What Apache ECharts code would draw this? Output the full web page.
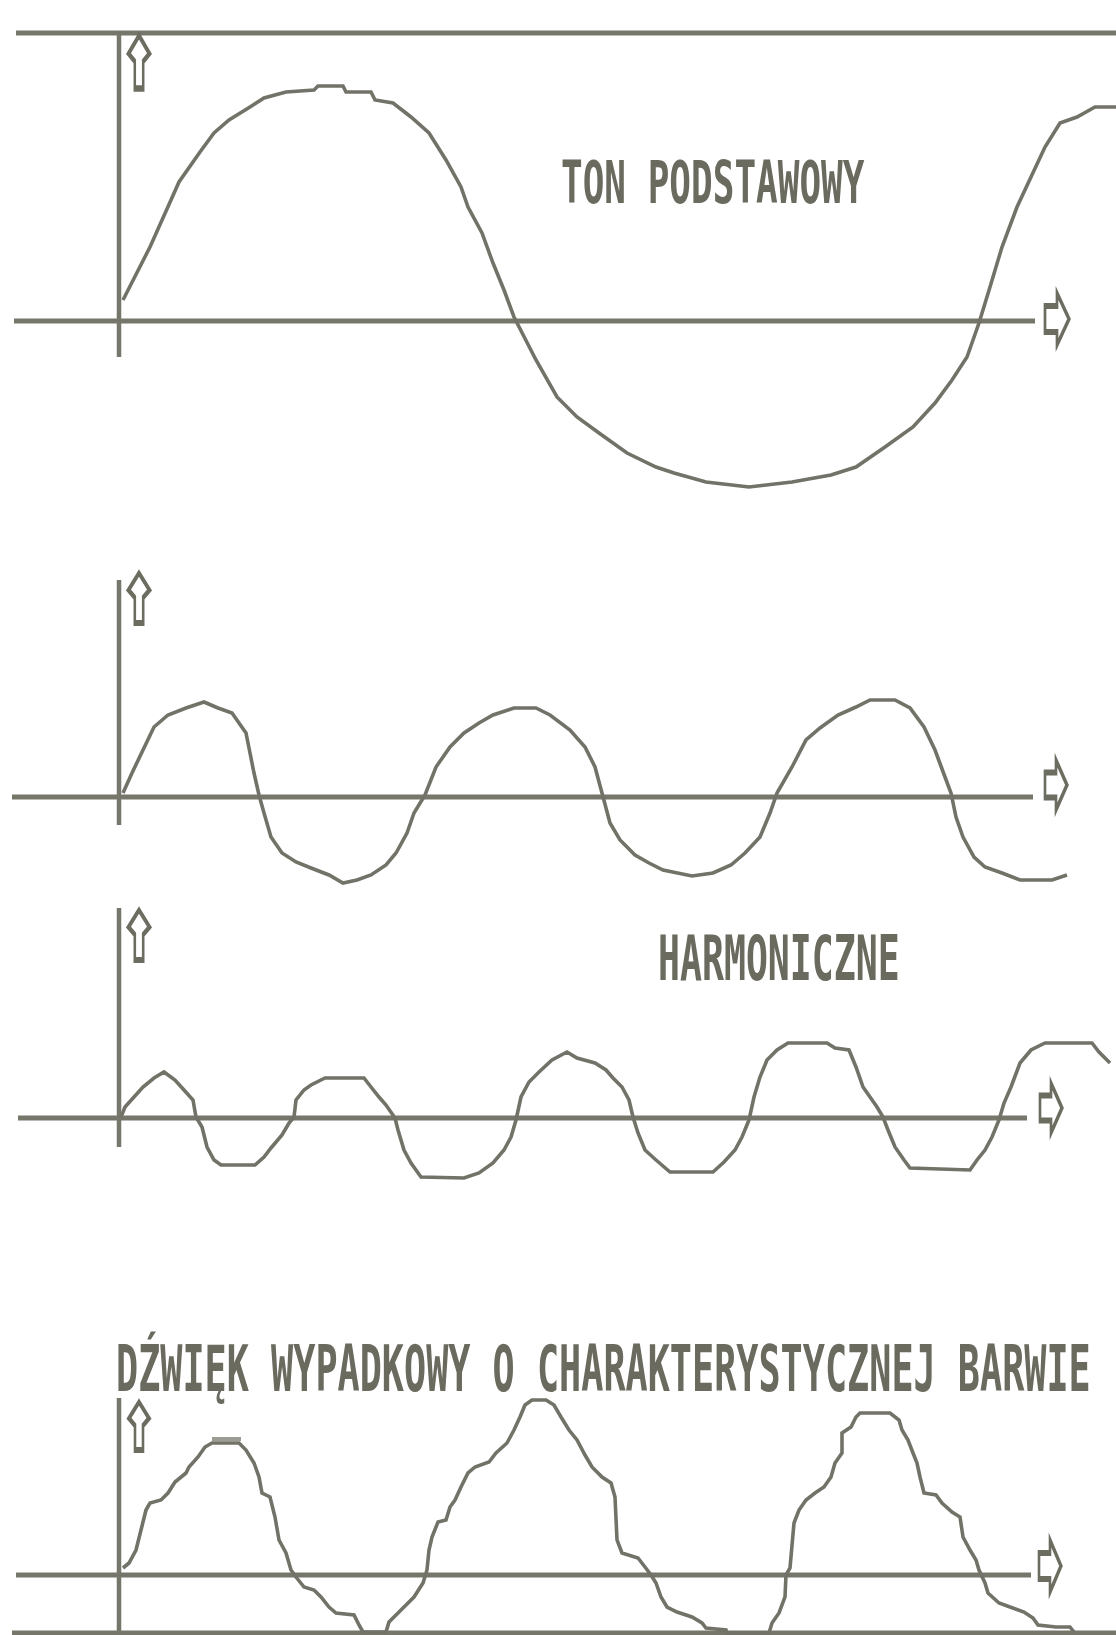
<!DOCTYPE html>
<html>
<head>
<meta charset="utf-8">
<script src="https://cdn.jsdelivr.net/npm/echarts@6/dist/echarts.min.js"></script>
<style>
html,body{margin:0;padding:0;background:#ffffff;}
#chart{width:1116px;height:1635px;}
</style>
</head>
<body>
<div id="chart"></div>
<script>
// ---------- DATA (t: time units, v: amplitude units) ----------
const tonPodstawowy = [
  [0.4,2.1],[3.1,7.4],[5.2,12.1],[6.0,13.9],[8.1,16.9],[9.5,18.8],[11.0,20.1],[13.1,21.4],[14.5,22.3],
  [16.7,22.9],[19.5,23.1],[19.9,23.5],[22.4,23.5],[22.7,22.9],[25.2,22.9],[25.6,22.1],[27.4,21.8],
  [29.2,20.4],[31.0,18.8],[32.7,16.1],[34.2,13.4],[34.9,11.4],[36.3,8.8],[37.4,5.8],[38.5,3.1],
  [39.5,0.4],[41.7,-3.9],[43.8,-7.6],[45.8,-9.6],[48.0,-11.2],[50.8,-13.2],[53.7,-14.6],[55.5,-15.2],
  [58.7,-16.1],[63.0,-16.6],[67.3,-16.1],[71.2,-15.4],[73.7,-14.6],[76.6,-12.6],[79.4,-10.6],
  [81.6,-8.2],[83.3,-5.9],[84.8,-3.6],[86.0,-0.2],[87.1,3.4],[88.3,7.4],[89.8,11.4],[91.2,14.4],
  [92.6,17.4],[94.1,19.8],[95.8,20.4],[97.6,21.4],[99.7,21.4]
];
const harmoniczna2 = [
  [0.4,0.4],[1.3,2.4],[2.4,4.7],[3.5,7.0],[4.9,8.2],[6.7,8.9],[8.5,9.5],[9.9,8.9],[11.3,8.4],
  [12.7,6.4],[13.1,4.4],[13.5,2.4],[14.0,0.2],[14.5,-1.6],[15.2,-4.0],[16.3,-5.6],[17.7,-6.5],
  [19.2,-7.1],[21.0,-7.8],[22.4,-8.6],[23.8,-8.3],[25.2,-7.8],[26.7,-6.8],[27.7,-5.6],[28.8,-3.6],
  [29.5,-1.6],[30.6,0.2],[31.7,3.0],[33.1,5.0],[34.5,6.4],[36.0,7.4],[37.4,8.2],[39.5,8.9],
  [41.7,8.9],[43.1,8.2],[45.1,6.7],[46.6,5.0],[47.6,3.0],[48.3,0.4],[49.1,-2.6],[50.1,-4.3],
  [51.6,-5.8],[53.0,-6.6],[54.4,-7.3],[57.3,-7.9],[59.4,-7.6],[61.2,-6.8],[62.6,-5.6],[64.1,-4.0],
  [65.1,-1.6],[65.8,0.4],[67.3,3.0],[68.7,5.7],[70.1,6.9],[71.9,8.2],[73.7,9.0],[75.1,9.7],
  [77.6,9.7],[79.1,8.9],[80.5,7.0],[81.6,4.7],[82.6,2.0],[83.2,0.4],[83.7,-2.0],[84.4,-4.0],
  [85.5,-6.0],[86.6,-7.0],[88.3,-7.6],[90.1,-8.3],[93.3,-8.3],[94.8,-7.8]
];
const harmoniczna3 = [
  [0.2,0.1],[0.6,1.1],[1.5,2.1],[2.4,3.1],[3.5,4.0],[4.5,4.6],[5.6,3.8],[6.5,2.8],[7.4,1.8],
  [7.7,0.1],[8.3,-0.9],[8.8,-2.9],[9.5,-4.2],[10.2,-4.7],[13.6,-4.7],[14.5,-3.9],[15.2,-3.0],
  [16.3,-1.7],[17.0,-0.5],[17.5,0.1],[17.7,1.8],[18.5,2.8],[19.2,3.3],[20.6,4.0],[24.5,4.0],
  [25.2,3.1],[26.0,2.1],[26.7,1.3],[27.6,0.0],[27.9,-1.2],[28.5,-3.2],[29.2,-4.5],[30.2,-5.9],
  [34.5,-6.0],[36.0,-5.5],[37.4,-4.5],[38.5,-3.2],[39.2,-1.9],[39.7,-0.2],[40.2,2.1],[41.0,3.6],
  [42.0,4.6],[43.3,5.8],[44.8,6.6],[45.8,6.0],[47.6,5.5],[48.7,4.8],[49.4,4.0],[50.3,3.1],
  [51.0,1.8],[51.4,0.1],[51.9,-1.5],[52.6,-3.2],[53.7,-4.2],[55.1,-5.4],[59.4,-5.4],[60.5,-4.4],
  [61.6,-3.2],[62.3,-1.9],[63.0,-0.2],[63.5,2.1],[64.1,4.1],[64.8,5.8],[65.8,6.8],[66.9,7.5],
  [70.8,7.5],[71.6,7.0],[73.0,6.8],[73.7,5.1],[74.4,3.1],[75.1,2.1],[75.8,1.1],[76.4,0.1],
  [76.9,-1.2],[77.6,-2.9],[78.5,-4.2],[79.1,-5.0],[85.1,-5.2],[85.8,-4.2],[86.6,-3.2],[87.3,-1.9],
  [88.0,-0.2],[88.5,1.5],[89.2,3.1],[90.1,5.5],[91.2,6.8],[92.6,7.5],[97.3,7.5],[98.0,6.6],[99.1,5.5]
];
const dzwiekWypadkowy = [
  [0.4,0.7],[1.0,1.2],[1.7,2.5],[2.2,4.5],[2.7,6.5],[3.1,7.2],[4.2,7.5],[4.9,8.2],[5.6,9.3],
  [6.7,10.2],[7.0,10.8],[7.9,11.8],[8.6,12.8],[9.3,13.2],[12.0,13.2],[12.7,12.5],[13.5,11.2],
  [14.0,9.8],[14.3,8.2],[15.1,7.8],[15.6,5.8],[16.0,3.5],[16.7,2.2],[17.2,0.5],[17.7,-0.2],
  [18.5,-1.2],[19.5,-1.5],[20.2,-2.2],[21.0,-3.2],[21.7,-3.8],[23.5,-4.0],[24.0,-5.0],[24.4,-5.7],
  [26.7,-5.7],[27.0,-4.7],[27.9,-3.8],[28.5,-3.2],[29.5,-2.2],[30.4,-0.8],[30.8,0.5],[31.0,2.5],
  [31.3,3.8],[31.9,5.3],[32.7,5.5],[33.1,6.8],[33.6,7.5],[34.2,8.8],[34.9,10.2],[35.6,10.8],
  [37.0,11.3],[37.7,12.2],[38.8,13.2],[39.5,14.5],[40.1,15.8],[40.6,17.0],[41.3,17.5],[42.7,17.5],
  [43.5,17.0],[44.2,15.8],[45.0,14.5],[45.8,13.5],[46.6,12.0],[47.3,10.8],[48.3,9.8],[49.2,9.2],
  [49.6,7.8],[49.8,3.5],[50.3,2.2],[51.9,1.7],[52.6,0.8],[53.2,0.0],[53.7,-0.8],[54.2,-2.2],
  [54.8,-3.2],[55.8,-3.7],[57.3,-4.2],[58.3,-4.8],[58.7,-5.3],[60.7,-5.5],[60.8,-5.8],[65.0,-5.8],
  [65.3,-4.8],[66.0,-3.8],[66.6,-2.2],[66.7,0.0],[67.1,0.7],[67.5,5.2],[68.0,6.5],[68.7,7.5],
  [69.6,8.2],[70.5,8.8],[71.2,9.8],[71.6,11.2],[72.3,12.2],[72.3,14.2],[73.2,14.8],[73.7,15.8],
  [74.1,16.2],[77.1,16.2],[78.0,15.5],[78.3,14.5],[78.9,13.5],[79.4,12.2],[79.8,11.2],[80.1,9.8],
  [80.5,8.2],[81.7,8.0],[82.3,7.2],[83.3,6.3],[84.1,5.8],[84.4,3.8],[85.1,2.5],[85.7,1.5],
  [86.0,0.5],[86.6,-0.8],[86.9,-1.8],[88.0,-2.8],[89.1,-3.2],[90.5,-3.7],[91.4,-4.3],[91.9,-5.0],
  [93.7,-5.2],[95.1,-5.2],[95.5,-5.7]
];
const znacznikSzczytu = [[9.3,13.6],[12.2,13.6]];

// axis / frame lines, per panel
const ramkaGorna1 = [[-10.3,28.8],[99.7,28.8]];
const osPionowa1 = [[0,28.8],[0,-3.6]];
const osCzasu1 = [[-10.5,0],[91.6,0]];
const osPionowa2 = [[0,21.7],[0,-2.8]];
const osCzasu2 = [[-10.7,0],[91.4,0]];
const osPionowa3 = [[0,21.0],[0,-2.9]];
const osCzasu3 = [[-10.1,0],[90.8,0]];
const osPionowa4 = [[0,17.7],[0,-6.0]];
const osCzasu4 = [[-10.3,0],[91.2,0]];
const ramkaDolna4 = [[-10.7,-5.8],[99.7,-5.8]];

// arrow heads of the axes
const strzalkiGora = [[[2.0,25.9]],[[2.0,19.9]],[[2.0,18.3]],[[2.0,14.9]]];
const strzalkiPrawo = [[[93.8,0.2]],[[93.7,1.2]],[[93.2,1.0]],[[93.1,0.9]]];

// texts
const napisy = ['TON PODSTAWOWY','HARMONICZNE','DŹWIĘK WYPADKOWY O CHARAKTERYSTYCZNEJ BARWIE'];

// ---------- CHART ----------
const AX = '#76766b', WAVE = '#727268', TXT = '#6a6a5f', ARR = '#6c6c61';
const grids = [
  {left:0, width:1116, top:20, height:480, ymin:-17.9, ymax:30.1},
  {left:0, width:1116, top:560, height:340, ymin:-10.3, ymax:23.7},
  {left:0, width:1116, top:900, height:300, ymin:-8.2, ymax:21.8},
  {left:0, width:1116, top:1325, height:310, ymin:-6.0, ymax:25.0}
];
const xAxes = grids.map((g,i)=>({type:'value', gridIndex:i, min:-11.9, max:99.7, show:false}));
const yAxes = grids.map((g,i)=>({type:'value', gridIndex:i, min:g.ymin, max:g.ymax, show:false}));

function line(data, gi, color, width, z){
  return {type:'line', xAxisIndex:gi, yAxisIndex:gi, data:data, showSymbol:false, symbol:'none',
    silent:true, animation:false, z:z||2, clip:true,
    lineStyle:{color:color, width:width, cap:'butt', join:'miter'}};
}
const upPath = 'path://M10,0 L20,18 L14,26 L14,53 L6,53 L6,26 L0,18 Z';
const rightPath = 'path://M0,13 L11,13 L11,0 L22,26 L11,52 L11,39 L0,39 Z';
function arrow(data, gi, path, size){
  return {type:'scatter', xAxisIndex:gi, yAxisIndex:gi, data:data, symbol:path, symbolSize:size,
    silent:true, animation:false, z:3,
    itemStyle:{color:'rgba(255,255,255,0)', borderColor:ARR, borderWidth:4, opacity:1}};
}

const series = [
  line(ramkaGorna1,0,AX,5,1), line(osPionowa1,0,AX,4.5,1), line(osCzasu1,0,AX,5,1),
  line(osPionowa2,1,AX,4.5,1), line(osCzasu2,1,AX,5,1),
  line(osPionowa3,2,AX,4.5,1), line(osCzasu3,2,AX,5,1),
  line(osPionowa4,3,AX,4.5,1), line(osCzasu4,3,AX,5,1), line(ramkaDolna4,3,AX,5,1),
  line(tonPodstawowy,0,WAVE,3.6,2),
  line(harmoniczna2,1,WAVE,3.6,2),
  line(harmoniczna3,2,WAVE,3.6,2),
  line(dzwiekWypadkowy,3,WAVE,3.6,2),
  line(znacznikSzczytu,3,'#9c9c94',4,2)
];
const upSizes = [[21,53],[21,50],[21,50],[20,48]];
const rightSizes = [[24,52],[22,50],[22,50],[22,52]];
for (let i=0;i<4;i++){
  series.push(arrow(strzalkiGora[i], i, upPath, upSizes[i]));
  series.push(arrow(strzalkiPrawo[i], i, rightPath, rightSizes[i]));
}

const FONT = '"DejaVu Sans Mono", monospace';
const chart = echarts.init(document.getElementById('chart'), null, {renderer:'canvas'});
chart.setOption({
  backgroundColor:'#ffffff',
  animation:false,
  grid: grids.map(g=>({left:g.left, width:g.width, top:g.top, height:g.height, containLabel:false})),
  xAxis: xAxes,
  yAxis: yAxes,
  series: series,
  graphic: [
    {type:'text', x:561, y:188, scaleX:1.0, scaleY:1.65, silent:true,
      style:{text:napisy[0], font:'bold 36px '+FONT, fill:TXT, verticalAlign:'middle', align:'left'}},
    {type:'text', x:658, y:964, scaleX:1.0, scaleY:1.7, silent:true,
      style:{text:napisy[1], font:'bold 36.5px '+FONT, fill:TXT, verticalAlign:'middle', align:'left'}},
    {type:'text', x:116, y:1374, scaleX:1.0, scaleY:1.75, silent:true,
      style:{text:napisy[2], font:'bold 36.8px '+FONT, fill:TXT, verticalAlign:'middle', align:'left'}}
  ]
});
</script>
</body>
</html>
